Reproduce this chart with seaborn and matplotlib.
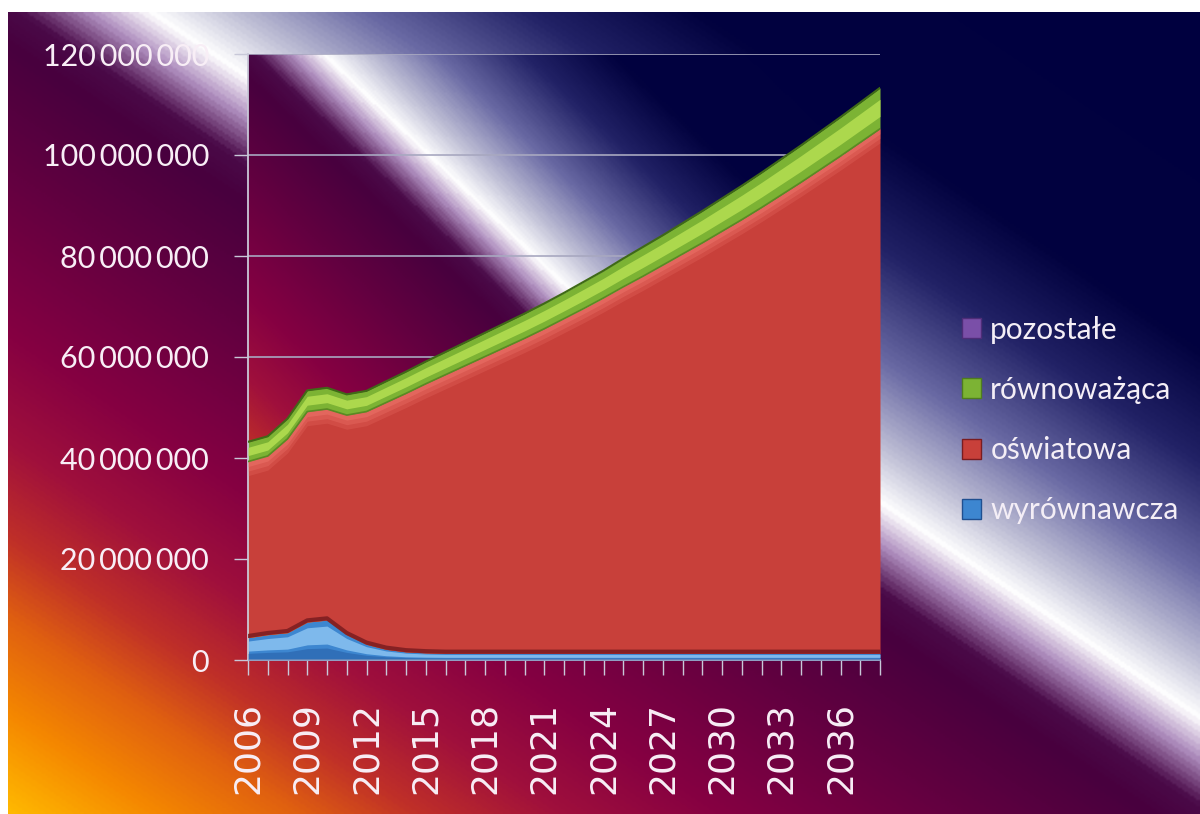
import numpy as np
import pandas as pd
import seaborn as sns
from matplotlib import pyplot as plt
from matplotlib.colors import LinearSegmentedColormap
from matplotlib.patches import Patch
from matplotlib.ticker import FuncFormatter

sns.set_theme(style='white')
plt.rcParams['font.family'] = ['Lato', 'DejaVu Sans']

#%% data (mln PLN)
years = np.arange(2006, 2039)
wyrownawcza = [4.4, 5.0, 5.4, 7.5, 7.9, 5.0, 3.1, 2.1, 1.6, 1.4, 1.3, 1.3, 1.3, 1.3, 1.3,
               1.3, 1.3, 1.3, 1.3, 1.3, 1.3, 1.3, 1.3, 1.3, 1.3, 1.3, 1.3, 1.3, 1.3, 1.3,
               1.3, 1.3, 1.3]
oswiatowa = [34.9, 35.4, 38.4, 41.7, 41.8, 43.5, 46.1, 48.9, 51.2, 53.3, 55.2, 57.0, 58.8,
             60.6, 62.4, 64.3, 66.3, 68.3, 70.4, 72.6, 74.7, 76.9, 79.1, 81.3, 83.6, 85.9,
             88.3, 90.8, 93.3, 95.9, 98.5, 101.2, 103.9]
rownowazaca = [3.9, 3.9, 4.0, 4.2, 4.2, 4.1, 4.1, 4.2, 4.3, 4.4, 4.5, 4.6, 4.7, 4.8, 4.9,
               5.0, 5.1, 5.3, 5.4, 5.6, 5.8, 5.9, 6.1, 6.3, 6.5, 6.7, 6.9, 7.1, 7.3, 7.5,
               7.7, 7.9, 8.1]
pozostale = [0.0] * len(years)

labels = ['wyrównawcza', 'oświatowa', 'równoważąca', 'pozostałe']
colors = ['#3d86d0', '#c8403a', '#7cb334', '#7a4fa8']

df = pd.DataFrame({'rok': years,
                   'wyrównawcza': np.array(wyrownawcza) * 1e6,
                   'oświatowa': np.array(oswiatowa) * 1e6,
                   'równoważąca': np.array(rownowazaca) * 1e6,
                   'pozostałe': np.array(pozostale) * 1e6})

top_blue = df['wyrównawcza'].values
top_red = top_blue + df['oświatowa'].values
top_green = top_red + df['równoważąca'].values

#%% background gradient
grad_cmap = LinearSegmentedColormap.from_list('bg', [
    (0.00, '#ffb800'), (0.06, '#f58800'), (0.12, '#e06010'), (0.17, '#c03028'),
    (0.23, '#a0103c'), (0.30, '#850042'), (0.40, '#620040'), (0.48, '#48003e'),
    (0.505, '#4a0a48'), (0.535, '#b090c0'), (0.56, '#ffffff'), (0.595, '#c0c0d6'),
    (0.65, '#6a6aa4'), (0.72, '#222266'), (0.79, '#02023f'), (1.00, '#000040')])

def gradient(h, w):
    u = np.linspace(0, 1, w)[None, :]
    v = np.linspace(0, 1, h)[:, None]
    return grad_cmap((u + 1 - v) / 2)

fig = plt.figure(figsize=(12, 8.14), dpi=100, facecolor='white')
bg = fig.add_axes([8/1200, 0, 1192/1200, 802/814])
bg.imshow(gradient(400, 600), aspect='auto', interpolation='bilinear')
bg.axis('off')

ax = fig.add_axes([248/1200, 1-660/814, 632/1200, 606/814])
ax.imshow(gradient(300, 320), extent=[2006, 2038, 0, 120e6], aspect='auto',
          interpolation='bilinear', zorder=0)

#%% stacked areas
ax.stackplot(df['rok'], df['wyrównawcza'], df['oświatowa'], df['równoważąca'], df['pozostałe'],
             colors=colors, linewidth=0, zorder=2)

# bevel-like shading
for d, a in [(2.8, 0.22), (1.9, 0.3), (1.0, 0.4)]:
    ax.fill_between(years, top_red - d*1e6, top_red, color='#f27a70', alpha=a, lw=0, zorder=3)
ax.fill_between(years, top_blue*0.40, top_blue*0.85, color='#9ad0f8', alpha=0.7, lw=0, zorder=3)
ax.fill_between(years, 0, top_blue*0.30, color='#2860a8', alpha=0.6, lw=0, zorder=3)
ax.fill_between(years, top_red + 0.3*(top_green-top_red), top_red + 0.72*(top_green-top_red),
                color='#b5df52', alpha=0.85, lw=0, zorder=3)

sns.lineplot(x=years, y=top_blue + 0.35e6, color='#7a1c20', lw=3, alpha=0.85, ax=ax, zorder=4)
sns.lineplot(x=years, y=top_red, color='#5a8a24', lw=1.2, ax=ax, zorder=4)
sns.lineplot(x=years, y=top_green, color='#3f6a16', lw=1.5, ax=ax, zorder=4)

#%% axes
ax.set_xlim(2006, 2038)
ax.set_ylim(0, 120e6)
ax.set_yticks(np.arange(0, 120e6 + 1, 20e6))
ax.yaxis.set_major_formatter(FuncFormatter(lambda v, p: f'{int(v):,}'.replace(',', '\u2009')))
ax.set_xticks(years[::3])
ax.set_xticks(years, minor=True)
ax.set_xticklabels([str(y) for y in years[::3]], rotation=90, family='DejaVu Sans')
ax.set_xlabel('')
ax.set_ylabel('')

ax.set_axisbelow(True)
ax.yaxis.grid(True, color='#a8a8c0', lw=1.2)
ax.xaxis.grid(False)

ax.tick_params(axis='y', which='major', length=10, width=1, color='#c8c8d8', pad=18,
               labelsize=22, labelcolor='#f8eef6', left=True)
ax.tick_params(axis='x', which='both', length=11, width=1, color='#c8c8d8', pad=19,
               labelsize=26, labelcolor='#f8eef6', bottom=True)

for s in ['top', 'right']:
    ax.spines[s].set_visible(False)
for s in ['left', 'bottom']:
    ax.spines[s].set_color('#c8c8d8')
    ax.spines[s].set_linewidth(1.3)

#%% legend
handles = [Patch(facecolor=colors[3], edgecolor='#4e2d78'),
           Patch(facecolor=colors[2], edgecolor='#4f7d1e'),
           Patch(facecolor=colors[1], edgecolor='#7a1c20'),
           Patch(facecolor=colors[0], edgecolor='#1f4f90')]
leg = fig.legend(handles, labels[::-1], loc='center left', bbox_to_anchor=(950/1200, 1-420/814),
                 frameon=False, fontsize=21.5, labelcolor='#f4eef6', handlelength=0.65,
                 handleheight=0.65, handletextpad=0.3, labelspacing=1.08, borderaxespad=0)

fig.savefig('out.png', dpi=100)
